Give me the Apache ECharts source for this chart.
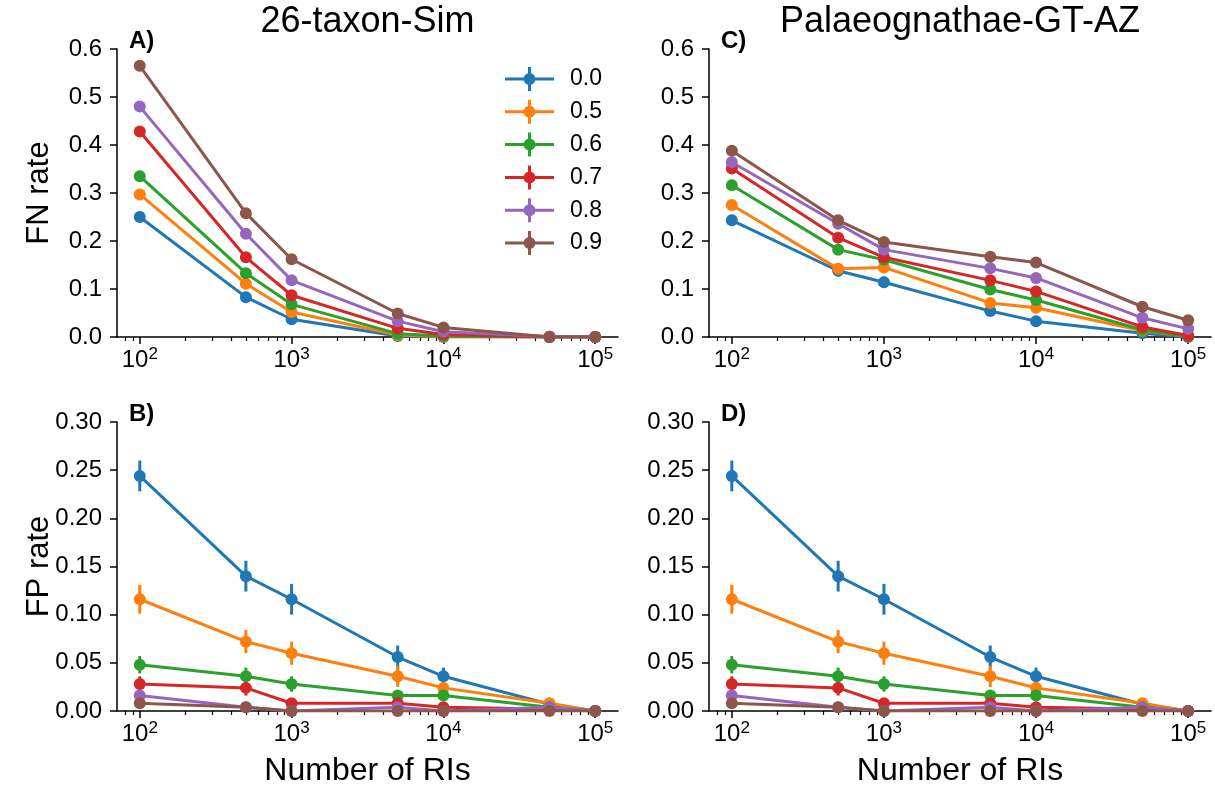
<!DOCTYPE html>
<html>
<head>
<meta charset="utf-8">
<script src="https://cdn.jsdelivr.net/npm/echarts@6/dist/echarts.min.js"></script>
<style>
html,body{margin:0;padding:0;background:#fff;}
#chart{width:1215px;height:789px;}
</style>
</head>
<body>
<div id="chart"></div>
<script>
// ---------------- data ----------------
const numRIs = [100, 500, 1000, 5000, 10000, 50000, 100000];
const seriesNames = ['0.0', '0.5', '0.6', '0.7', '0.8', '0.9'];
const colors = ['#1f77b4', '#ff7f0e', '#2ca02c', '#d62728', '#9467bd', '#8c564b'];

const panelTitles = ['26-taxon-Sim', 'Palaeognathae-GT-AZ'];
const panelLetters = ['A)', 'B)', 'C)', 'D)'];
const yNames = ['FN rate', 'FP rate'];
const xName = 'Number of RIs';
const xMajorTicks = [100, 1000, 10000, 100000];
const xMinorTicks = [80, 90, 200, 300, 400, 500, 600, 700, 800, 900,
  2000, 3000, 4000, 5000, 6000, 7000, 8000, 9000,
  20000, 30000, 40000, 50000, 60000, 70000, 80000, 90000];

// Panel A: FN rate, 26-taxon-Sim
const fnA_00 = [0.250, 0.083, 0.037, 0.002, 0.000, 0.000, 0.000];
const fnA_05 = [0.297, 0.111, 0.052, 0.004, 0.001, 0.000, 0.000];
const fnA_06 = [0.335, 0.133, 0.068, 0.007, 0.002, 0.000, 0.000];
const fnA_07 = [0.428, 0.166, 0.087, 0.018, 0.005, 0.000, 0.000];
const fnA_08 = [0.480, 0.215, 0.118, 0.033, 0.011, 0.001, 0.000];
const fnA_09 = [0.565, 0.258, 0.162, 0.049, 0.020, 0.000, 0.000];
const fnA_err_00 = [0.010, 0.006, 0.004, 0.001, 0.000, 0.000, 0.000];
const fnA_err_05 = [0.010, 0.006, 0.004, 0.001, 0.001, 0.000, 0.000];
const fnA_err_06 = [0.008, 0.006, 0.004, 0.002, 0.001, 0.000, 0.000];
const fnA_err_07 = [0.006, 0.006, 0.004, 0.002, 0.001, 0.000, 0.000];
const fnA_err_08 = [0.005, 0.005, 0.004, 0.002, 0.001, 0.000, 0.000];
const fnA_err_09 = [0.005, 0.005, 0.004, 0.002, 0.001, 0.000, 0.000];

// Panel C: FN rate, Palaeognathae-GT-AZ
const fnC_00 = [0.243, 0.138, 0.114, 0.054, 0.033, 0.008, 0.000];
const fnC_05 = [0.275, 0.142, 0.145, 0.071, 0.061, 0.013, 0.001];
const fnC_06 = [0.316, 0.182, 0.161, 0.099, 0.077, 0.015, 0.001];
const fnC_07 = [0.351, 0.207, 0.166, 0.118, 0.095, 0.021, 0.003];
const fnC_08 = [0.364, 0.236, 0.182, 0.143, 0.123, 0.040, 0.017];
const fnC_09 = [0.388, 0.243, 0.198, 0.167, 0.155, 0.063, 0.035];
const fnC_err_00 = [0.012, 0.012, 0.012, 0.006, 0.004, 0.002, 0.000];
const fnC_err_05 = [0.010, 0.012, 0.010, 0.006, 0.005, 0.002, 0.000];
const fnC_err_06 = [0.010, 0.008, 0.006, 0.005, 0.004, 0.002, 0.000];
const fnC_err_07 = [0.008, 0.008, 0.006, 0.005, 0.004, 0.002, 0.000];
const fnC_err_08 = [0.008, 0.006, 0.006, 0.005, 0.004, 0.003, 0.002];
const fnC_err_09 = [0.006, 0.006, 0.005, 0.004, 0.004, 0.003, 0.002];

// Panels B and D: FP rate
const fp_00 = [0.244, 0.140, 0.116, 0.056, 0.036, 0.007, 0.000];
const fp_05 = [0.116, 0.072, 0.060, 0.036, 0.024, 0.008, 0.000];
const fp_06 = [0.048, 0.036, 0.028, 0.016, 0.016, 0.004, 0.000];
const fp_07 = [0.028, 0.024, 0.008, 0.008, 0.004, 0.002, 0.000];
const fp_08 = [0.016, 0.004, 0.000, 0.004, 0.000, 0.004, 0.000];
const fp_09 = [0.008, 0.004, 0.000, 0.000, 0.000, 0.000, 0.000];
const fp_err_00 = [0.016, 0.016, 0.016, 0.012, 0.009, 0.003, 0.000];
const fp_err_05 = [0.015, 0.012, 0.012, 0.011, 0.006, 0.003, 0.000];
const fp_err_06 = [0.009, 0.009, 0.008, 0.005, 0.005, 0.002, 0.000];
const fp_err_07 = [0.008, 0.008, 0.004, 0.004, 0.003, 0.001, 0.000];
const fp_err_08 = [0.005, 0.003, 0.000, 0.003, 0.000, 0.002, 0.000];
const fp_err_09 = [0.004, 0.003, 0.000, 0.000, 0.000, 0.000, 0.000];

// ---------------- layout ----------------
const FONT = '"Liberation Sans", Arial, Helvetica, sans-serif';
const xMin = Math.pow(10, 1.85), xMax = Math.pow(10, 5.15);
const panels = [
  { grid: { left: 117, top: 49, width: 501, height: 288 }, ymax: 0.6, yint: 0.1, dec: 1,
    vals: [fnA_00, fnA_05, fnA_06, fnA_07, fnA_08, fnA_09],
    errs: [fnA_err_00, fnA_err_05, fnA_err_06, fnA_err_07, fnA_err_08, fnA_err_09] },
  { grid: { left: 117, top: 422, width: 501, height: 289 }, ymax: 0.3, yint: 0.05, dec: 2,
    vals: [fp_00, fp_05, fp_06, fp_07, fp_08, fp_09],
    errs: [fp_err_00, fp_err_05, fp_err_06, fp_err_07, fp_err_08, fp_err_09] },
  { grid: { left: 709, top: 49, width: 502, height: 288 }, ymax: 0.6, yint: 0.1, dec: 1,
    vals: [fnC_00, fnC_05, fnC_06, fnC_07, fnC_08, fnC_09],
    errs: [fnC_err_00, fnC_err_05, fnC_err_06, fnC_err_07, fnC_err_08, fnC_err_09] },
  { grid: { left: 709, top: 422, width: 502, height: 289 }, ymax: 0.3, yint: 0.05, dec: 2,
    vals: [fp_00, fp_05, fp_06, fp_07, fp_08, fp_09],
    errs: [fp_err_00, fp_err_05, fp_err_06, fp_err_07, fp_err_08, fp_err_09] }
];

const grids = [], xAxes = [], yAxes = [], series = [];
const axisLineStyle = { color: '#000', width: 1.5 };

panels.forEach((p, pi) => {
  grids.push(p.grid);
  // major x axis
  xAxes.push({
    type: 'log', gridIndex: pi, position: 'bottom', min: xMin, max: xMax, logBase: 10,
    axisLine: { show: true, onZero: false, lineStyle: axisLineStyle },
    axisTick: { show: true, length: 7, lineStyle: { color: '#000', width: 1.5 }, customValues: xMajorTicks },
    axisLabel: {
      show: true, margin: 11, customValues: xMajorTicks, color: '#000',
      fontFamily: FONT, fontSize: 24,
      formatter: v => '{n|10}{s|' + Math.round(Math.log10(v)) + '}',
      rich: {
        n: { fontSize: 24, lineHeight: 24, fontFamily: FONT, color: '#000' },
        s: { fontSize: 17, lineHeight: 17, fontFamily: FONT, color: '#000', padding: [0, 0, 12, 0] }
      }
    },
    splitLine: { show: false }, minorTick: { show: false }
  });
  // minor x ticks
  xAxes.push({
    type: 'log', gridIndex: pi, position: 'bottom', min: xMin, max: xMax, logBase: 10,
    axisLine: { show: false, onZero: false },
    axisTick: { show: true, length: 4, lineStyle: { color: '#000', width: 1.2 }, customValues: xMinorTicks },
    axisLabel: { show: false },
    splitLine: { show: false }
  });
  yAxes.push({
    type: 'value', gridIndex: pi, min: 0, max: p.ymax, interval: p.yint,
    axisLine: { show: true, onZero: false, lineStyle: axisLineStyle },
    axisTick: { show: true, length: 7, lineStyle: { color: '#000', width: 1.5 } },
    axisLabel: { color: '#000', fontFamily: FONT, fontSize: 24, margin: 15,
      formatter: v => v.toFixed(p.dec) },
    splitLine: { show: false }
  });

  seriesNames.forEach((name, si) => {
    const vals = p.vals[si], errs = p.errs[si];
    series.push({
      type: 'custom', name: 'err ' + name, xAxisIndex: pi * 2, yAxisIndex: pi,
      data: numRIs.map((x, j) => [x, vals[j] - errs[j], vals[j] + errs[j]]),
      encode: { x: 0, y: [1, 2] },
      silent: true,
      renderItem: (params, api) => {
        const a = api.coord([api.value(0), api.value(1)]);
        const b = api.coord([api.value(0), api.value(2)]);
        return { type: 'line', shape: { x1: a[0], y1: a[1], x2: b[0], y2: b[1] },
          style: { stroke: colors[si], lineWidth: 3 } };
      }
    });
    series.push({
      type: 'line', name: name, xAxisIndex: pi * 2, yAxisIndex: pi,
      data: numRIs.map((x, j) => [x, vals[j]]),
      symbol: 'circle', symbolSize: 12, showSymbol: true,
      color: colors[si],
      itemStyle: { color: colors[si] },
      lineStyle: { color: colors[si], width: 3 },
      emphasis: { disabled: true }
    });
  });
});

const legendIcon = 'path://M0,10.5 H49 V13.5 H0 Z M23,0 H26 V24 H23 Z M18.5,12 A6,6 0 1,1 30.5,12 A6,6 0 1,1 18.5,12 Z';

const textG = (text, x, y, size, opts) => Object.assign({
  type: 'text', x: x, y: y,
  style: { text: text, fontFamily: FONT, fontSize: size, fill: '#000', align: 'center', verticalAlign: 'middle' }
}, opts || {});

const graphics = [
  textG(panelTitles[0], 367.5, 22, 36),
  textG(panelTitles[1], 960, 22, 36),
  textG(yNames[0], 39.5, 193, 31, { rotation: Math.PI / 2 }),
  textG(yNames[1], 39.5, 566.5, 31, { rotation: Math.PI / 2 }),
  textG(xName, 367.5, 771, 32),
  textG(xName, 960, 771, 32)
];
const letterPos = [[129, 41], [129, 414], [721, 41], [721, 414]];
panelLetters.forEach((t, i) => {
  graphics.push({ type: 'text', x: letterPos[i][0], y: letterPos[i][1],
    style: { text: t, fontFamily: FONT, fontSize: 24, fontWeight: 'bold', fill: '#000', align: 'left', verticalAlign: 'middle' } });
});

const chart = echarts.init(document.getElementById('chart'), null, { renderer: 'canvas' });
chart.setOption({
  animation: false,
  backgroundColor: '#fff',
  grid: grids,
  xAxis: xAxes,
  yAxis: yAxes,
  legend: {
    orient: 'vertical', left: 500, top: 62,
    itemWidth: 49, itemHeight: 24, itemGap: 8.8,
    selectedMode: false,
    data: seriesNames.map(n => ({ name: n, icon: legendIcon })),
    formatter: n => '{t|' + n + '}',
    textStyle: { rich: { t: { fontFamily: FONT, fontSize: 23, color: '#000', padding: [0, 0, 0, 11] } } }
  },
  graphic: graphics,
  series: series
});
</script>
</body>
</html>
